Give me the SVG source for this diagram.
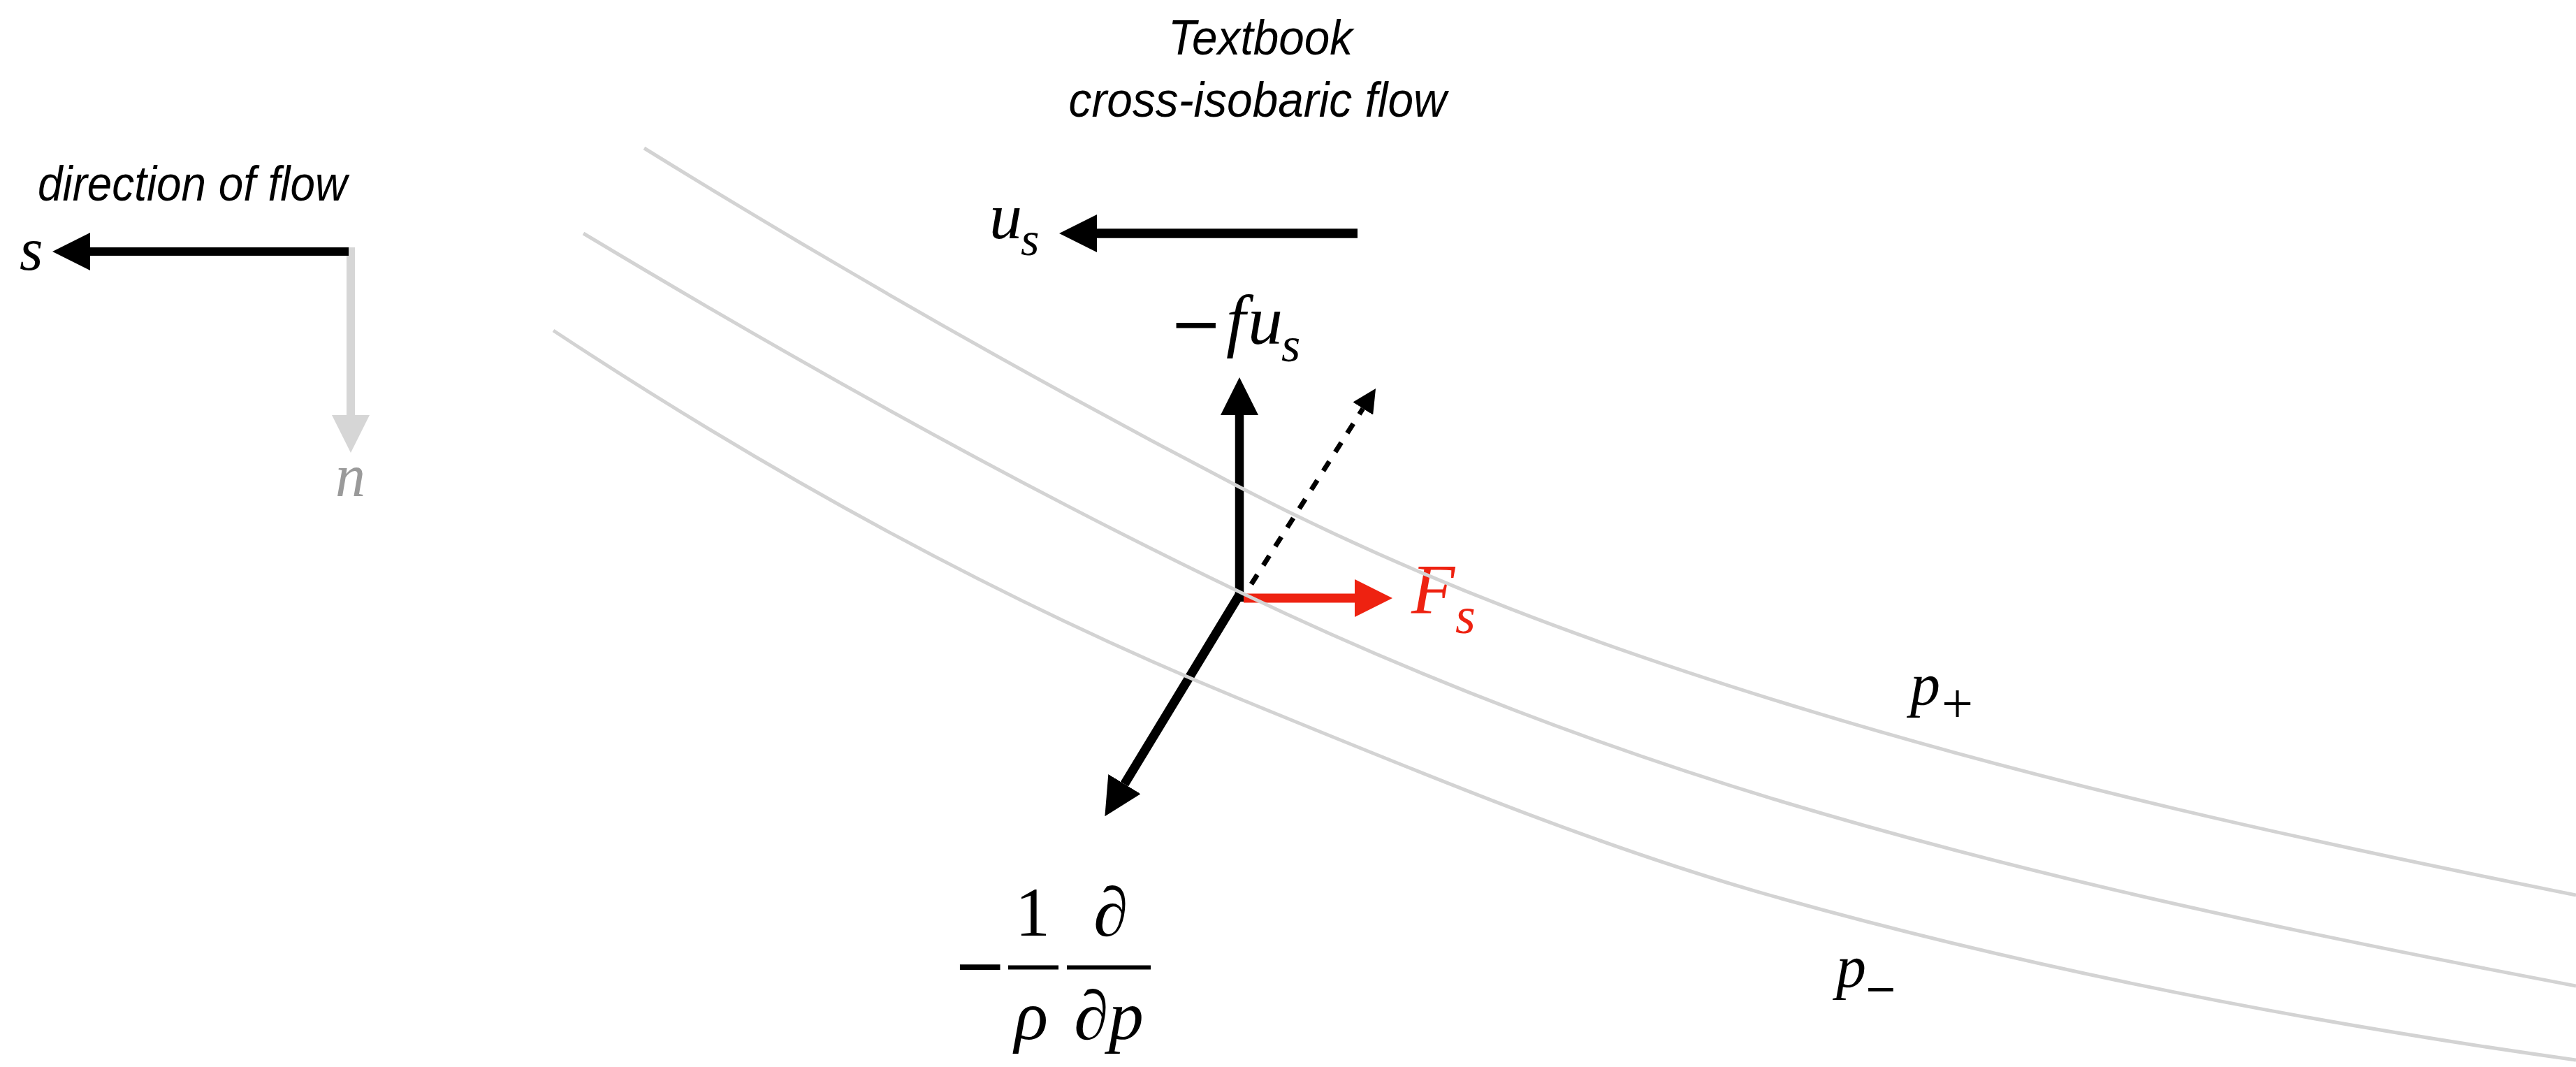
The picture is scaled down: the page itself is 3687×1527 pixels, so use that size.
<svg xmlns="http://www.w3.org/2000/svg" width="3687" height="1527" viewBox="0 0 3687 1527">
  <style>
    .sans { font-family: "Liberation Sans", Arial, sans-serif; font-style: italic; font-size: 70px; fill: #000; }
    .math { font-family: "Liberation Serif", "Times New Roman", serif; }
    .op { font-family: "DejaVu Sans", "Liberation Sans", sans-serif; }
    .it { font-style: italic; }
    .vec { fill: none; stroke: #000; stroke-linecap: butt; }
    .iso { fill: none; stroke: #d3d3d3; stroke-width: 5; }
    .bar { stroke: #000; stroke-width: 6; }
  </style>
  <defs>
    <marker id="headBlack" markerUnits="userSpaceOnUse" markerWidth="54" markerHeight="54" viewBox="0 0 54 54" refX="0" refY="27" orient="auto">
      <path d="M0,0 L54,27 L0,54 Z" fill="#000"/>
    </marker>
    <marker id="headRed" markerUnits="userSpaceOnUse" markerWidth="54" markerHeight="54" viewBox="0 0 54 54" refX="0" refY="27" orient="auto">
      <path d="M0,0 L54,27 L0,54 Z" fill="#ee2211"/>
    </marker>
    <marker id="headGray" markerUnits="userSpaceOnUse" markerWidth="54" markerHeight="54" viewBox="0 0 54 54" refX="0" refY="27" orient="auto">
      <path d="M0,0 L54,27 L0,54 Z" fill="#d6d6d6"/>
    </marker>
    <marker id="headSmall" markerUnits="userSpaceOnUse" markerWidth="34" markerHeight="34" viewBox="0 0 34 34" refX="0" refY="17" orient="auto">
      <path d="M0,0 L34,17 L0,34 Z" fill="#000"/>
    </marker>
  </defs>
  <rect width="3687" height="1527" fill="#fff"/>

  <g id="title">
    <text class="sans" x="1804" y="78" text-anchor="middle" textLength="264" lengthAdjust="spacingAndGlyphs">Textbook</text>
    <text class="sans" x="1800" y="167" text-anchor="middle" textLength="541" lengthAdjust="spacingAndGlyphs">cross-isobaric flow</text>
  </g>

  <g id="axes">
    <text class="sans" x="54" y="287" textLength="443" lengthAdjust="spacingAndGlyphs">direction of flow</text>
    <text class="math it" x="28" y="386" font-size="86" fill="#000">s</text>
    <text class="math it" x="480" y="710" font-size="86" fill="#9a9a9a">n</text>
  </g>

  <g id="connectors">
    <line id="n-axis" class="vec" x1="502" y1="354" x2="502" y2="594" style="stroke:#d6d6d6" stroke-width="12" marker-end="url(#headGray)"/>
    <line id="s-axis" class="vec" x1="499" y1="360" x2="129" y2="360" stroke-width="12" marker-end="url(#headBlack)"/>
    <line id="us-vec" class="vec" x1="1943" y1="334" x2="1570" y2="334" stroke-width="13.5" marker-end="url(#headBlack)"/>
    <line id="coriolis-vec" class="vec" x1="1774" y1="861" x2="1774" y2="594" stroke-width="12.5" marker-end="url(#headBlack)"/>
    <line id="pgf-vec" class="vec" x1="1776" y1="848" x2="1609.4" y2="1122.1" stroke-width="13" marker-end="url(#headBlack)"/>
    <line id="textbook-vec" class="vec" x1="1791" y1="836" x2="1950.8" y2="584.7" stroke-width="7" stroke-dasharray="16 16" marker-end="url(#headSmall)"/>
    <line id="fs-vec" class="vec" x1="1780" y1="856" x2="1939" y2="856" style="stroke:#ee2211" stroke-width="13" marker-end="url(#headRed)"/>
  </g>

  <g id="label-us" fill="#000">
    <text class="math it" x="1416" y="341" font-size="94">u</text>
    <text class="math it" x="1461" y="365" font-size="68">s</text>
  </g>

  <g id="label-coriolis" fill="#000">
    <text class="op" x="1674" y="494" font-size="90">−</text>
    <text class="math it" x="1755" y="492" font-size="100">f</text>
    <text class="math it" x="1786" y="492" font-size="100">u</text>
    <text class="math it" x="1834" y="517" font-size="70">s</text>
  </g>

  <g id="label-fs" fill="#ee2211">
    <text class="math it" x="2020" y="878" font-size="102">F</text>
    <text class="math it" x="2083" y="906" font-size="74">s</text>
  </g>

  <g id="label-pgf" fill="#000">
    <text class="op" x="1364" y="1413" font-size="92">−</text>
    <line class="bar" x1="1443" y1="1384.5" x2="1515" y2="1384.5"/>
    <line class="bar" x1="1527" y1="1384.5" x2="1647" y2="1384.5"/>
    <text class="math" x="1478" y="1339" font-size="100" text-anchor="middle">1</text>
    <text class="math it" x="1590" y="1339" font-size="100" text-anchor="middle">∂</text>
    <text class="math it" x="1476" y="1487" font-size="100" text-anchor="middle">ρ</text>
    <text class="math it" x="1587" y="1487" font-size="100" text-anchor="middle">∂p</text>
  </g>

  <g id="label-pplus" fill="#000">
    <text class="math it" x="2734" y="1008" font-size="86">p</text>
    <text class="math" x="2779" y="1034" font-size="80">+</text>
  </g>

  <g id="label-pminus" fill="#000">
    <text class="math it" x="2628" y="1412" font-size="86">p</text>
    <text class="op" x="2668" y="1434" font-size="57">−</text>
  </g>

  <g id="isobars">
    <path id="iso-top" class="iso" d="M922,212 C1206,388 1490,549 1774,697 C2033,831.5 2291,925 2550,1005 C2929,1122.5 3308,1205 3687,1281"/>
    <path id="iso-mid" class="iso" d="M835,334 C1148,522 1461,697 1774,847 C2033,971 2291,1069 2550,1147 C2929,1261 3308,1339 3687,1411"/>
    <path id="iso-bot" class="iso" d="M792,473 C1119,689 1447,866 1774,1000 C2033,1106 2291,1214 2550,1286 C2929,1392 3308,1464 3687,1517"/>
  </g>
</svg>
